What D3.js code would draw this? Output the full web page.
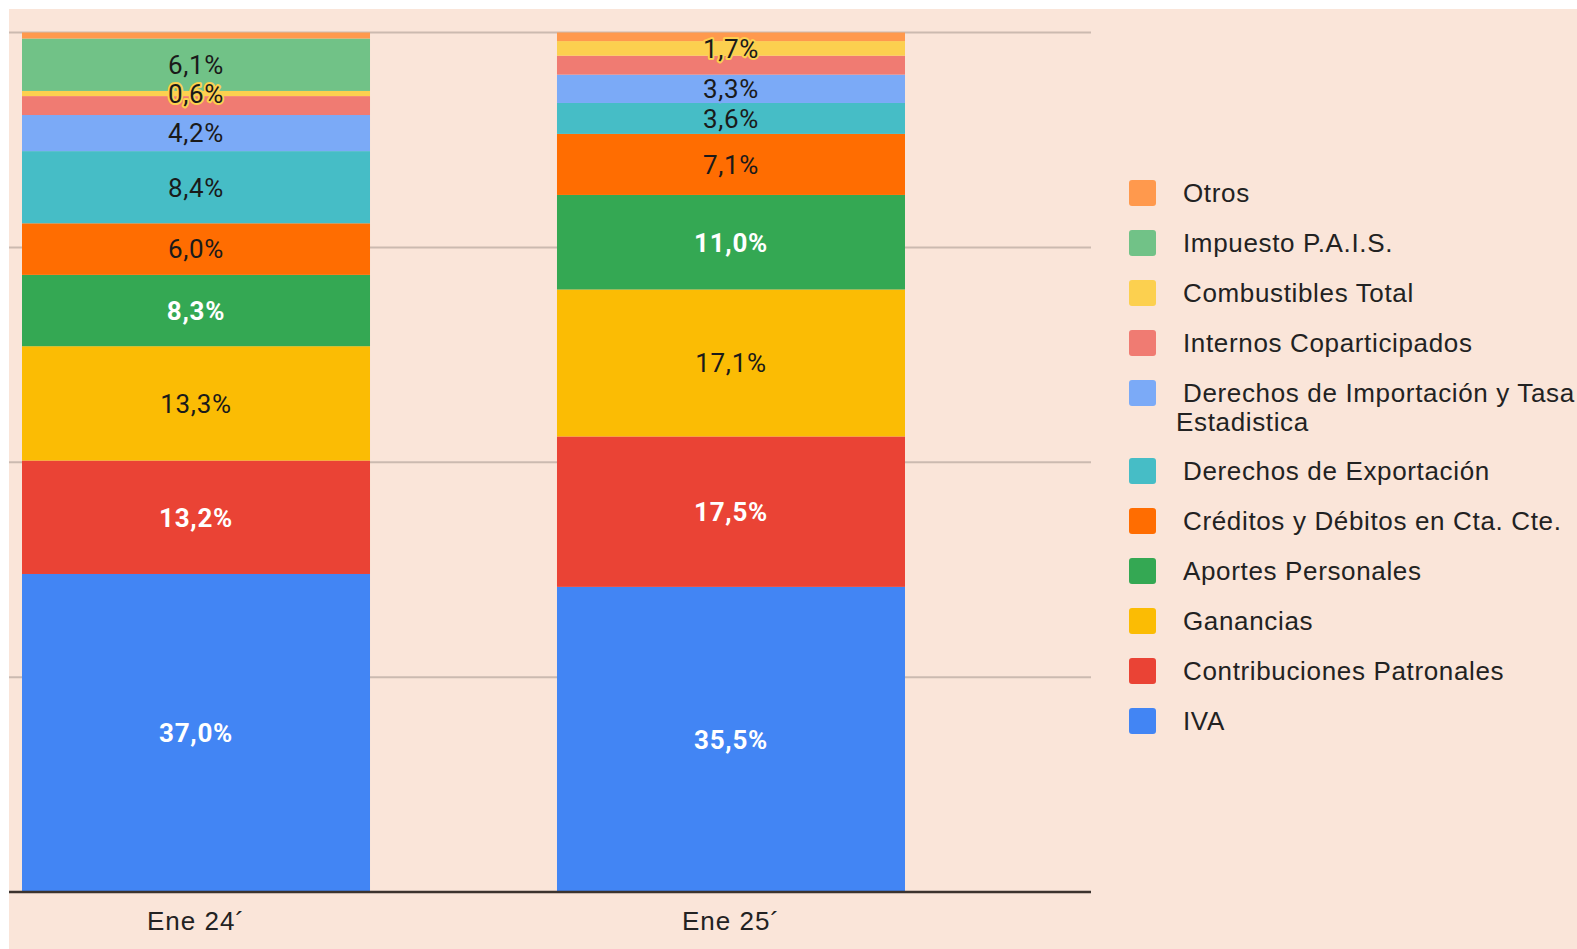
<!DOCTYPE html>
<html>
<head>
<meta charset="utf-8">
<script src="https://cdn.jsdelivr.net/npm/d3@7"></script>
<style>
  body { margin: 0; background: #fff; }
  .legend text, .xlab { font-family: "Liberation Sans", Arial, sans-serif; fill: #222; }
  .legend text { letter-spacing: 0.65px; }
  .xlab { letter-spacing: 1px; }
  .val { font-family: Roboto, "Liberation Sans", Arial, sans-serif; text-anchor: middle; letter-spacing: 0.7px; }
</style>
</head>
<body>
<div id="chart"></div>
<script>
const WIDTH = 1577, HEIGHT = 949;

const categories = ["Ene 24´", "Ene 25´"];
const series = ["IVA", "Contribuciones Patronales", "Ganancias", "Aportes Personales",
  "Créditos y Débitos en Cta. Cte.", "Derechos de Exportación",
  "Derechos de Importación y Tasa Estadistica", "Internos Coparticipados",
  "Combustibles Total", "Impuesto P.A.I.S.", "Otros"];
const ene24 = [37.0, 13.2, 13.3, 8.3, 6.0, 8.4, 4.2, 2.2, 0.6, 6.1, 0.7];
const ene25 = [35.5, 17.5, 17.1, 11.0, 7.1, 3.6, 3.3, 2.2, 1.7, 0.0, 1.0];
const colors = ["#4285f4", "#ea4335", "#fbbc04", "#34a853", "#ff6d01", "#46bdc6",
  "#7baaf7", "#f07b72", "#fcd04f", "#71c287", "#ff994d"];
const whiteLabels = ["IVA", "Contribuciones Patronales", "Aportes Personales"];
const noLabels = ["Internos Coparticipados", "Otros"];
const yTicks = [25, 50, 75, 100];

const svg = d3.select("#chart").append("svg")
  .attr("width", WIDTH).attr("height", HEIGHT);

svg.append("rect").attr("x", 9).attr("y", 9)
  .attr("width", WIDTH - 9).attr("height", HEIGHT - 9).attr("fill", "#fae5d9");

const x = d3.scaleBand().domain(categories).range([22, 905])
  .paddingInner(0.3495).paddingOuter(0);
const y = d3.scaleLinear().domain([0, 100]).range([892, 32.5]);
const color = d3.scaleOrdinal().domain(series).range(colors);

// gridlines
svg.append("g").selectAll("line").data(yTicks).join("line")
  .attr("x1", 9).attr("x2", 1091)
  .attr("y1", d => y(d)).attr("y2", d => y(d))
  .attr("stroke", "#cbbab0").attr("stroke-width", 2);

const table = categories.map((c, i) => {
  const row = { cat: c };
  series.forEach((s, j) => row[s] = [ene24, ene25][i][j]);
  return row;
});
const stacked = d3.stack().keys(series)(table);

const layers = svg.append("g").selectAll("g").data(stacked).join("g")
  .attr("fill", d => color(d.key));
layers.selectAll("rect").data(d => d).join("rect")
  .attr("x", d => x(d.data.cat))
  .attr("width", x.bandwidth())
  .attr("y", d => y(d[1]))
  .attr("height", d => y(d[0]) - y(d[1]));

// value labels
const labels = [];
stacked.forEach(layer => layer.forEach(d => {
  const v = d[1] - d[0];
  if (v <= 0 || noLabels.includes(layer.key)) return;
  labels.push({ key: layer.key, cat: d.data.cat, v, mid: (d[0] + d[1]) / 2 });
}));
svg.append("g").selectAll("text").data(labels).join("text")
  .attr("class", "val")
  .attr("x", d => x(d.cat) + x.bandwidth() / 2)
  .attr("y", d => y(d.mid))
  .attr("dy", "0.36em")
  .attr("font-size", 26)
  .attr("font-weight", d => whiteLabels.includes(d.key) ? "bold" : "normal")
  .attr("fill", d => whiteLabels.includes(d.key) ? "#fff" : "#1a1a1a")
  .attr("stroke", d => color(d.key)).attr("stroke-width", 4)
  .attr("paint-order", "stroke").attr("stroke-linejoin", "round")
  .text(d => d3.format(".1f")(d.v).replace(".", ",") + "%");

// baseline
svg.append("line").attr("x1", 9).attr("x2", 1091)
  .attr("y1", y(0)).attr("y2", y(0))
  .attr("stroke", "#3b332e").attr("stroke-width", 2.5);

svg.append("g").selectAll("text").data(categories).join("text")
  .attr("class", "xlab")
  .attr("x", d => x(d) + x.bandwidth() / 2).attr("y", 921)
  .attr("dy", "0.35em").attr("text-anchor", "middle")
  .attr("font-size", 26)
  .text(d => d);

// legend, top to bottom = reverse stack order
const legend = svg.append("g").attr("class", "legend");
const items = series.slice().reverse();
const rowY = (i) => 193 + i * 50 + (i > 4 ? 28 : 0);
const rows = legend.selectAll("g").data(items).join("g")
  .attr("transform", (_, i) => `translate(1129, ${rowY(i)})`);
rows.append("rect").attr("x", 0).attr("y", -13).attr("width", 27).attr("height", 26)
  .attr("rx", 3).attr("fill", d => color(d));
rows.append("text").attr("x", 54).attr("dy", "0.35em").attr("font-size", 26)
  .each(function(d) {
    const t = d3.select(this);
    if (d.startsWith("Derechos de Importación")) {
      t.append("tspan").text("Derechos de Importación y Tasa");
      t.append("tspan").attr("x", 47).attr("dy", "1.1em").text("Estadistica");
    } else {
      t.text(d);
    }
  });
</script>
</body>
</html>
